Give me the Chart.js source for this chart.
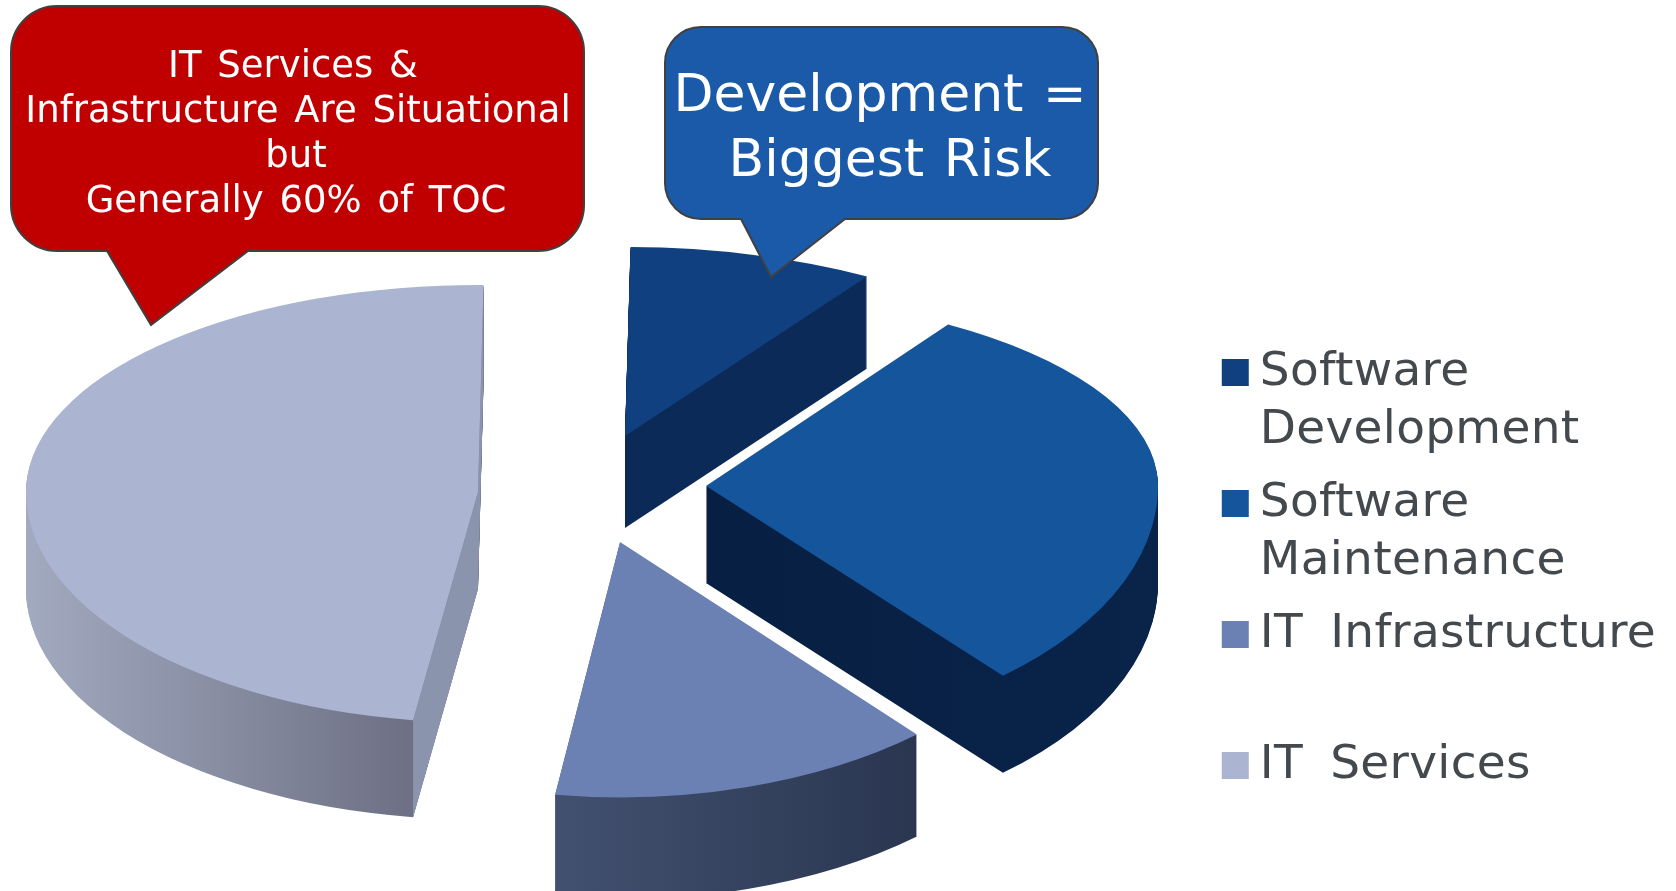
<!DOCTYPE html>
<html lang="en">
<head>
    <meta charset="UTF-8">
    <title>Total Ownership Cost</title>
    <script src="https://cdn.jsdelivr.net/npm/chart.js"></script>
    <style>
        html, body {
            margin: 0;
            padding: 0;
            background: #ffffff;
            overflow: hidden;
        }
        .chart-container {
            position: relative;
            width: 1676px;
            height: 891px;
        }
    </style>
</head>
<body>
    <div class="chart-container">
        <canvas id="costChart"></canvas>
    </div>

    <script>
        // Share of cost per category, wrapped names are what the legend prints
        const categories = [['Software', 'Development'], ['Software', 'Maintenance'], ['IT Infrastructure', ''], ['IT Services']];
        const shares = [8.8, 29.6, 13.7, 47.9];

        const topColors = ['#10407f', '#15559c', '#6b80b3', '#abb4d1'];
        const wallColors = [
            ['#0c2a57', '#0c2a57'],
            ['#071f42', '#0a2349'],
            ['#42506f', '#2a3650'],
            ['#a2aabf', '#6e7186']
        ];
        const wallSpans = [[-1, 1], [0, 1], [-0.13, 0.66], [-1, -0.16]];
        const faceColors = [null, null, null, '#8a94ad'];
        const drawOrder = [3, 0, 1, 2];

        // Where each slice's point sits, how flat its back and front halves are, how tall its wall is
        const sliceTips = [[625, 436], [706, 486], [620, 542], [478, 492]];
        const backSquash = [0.418, 0.423, 0.5, 0.458];
        const frontSquash = [0.5, 0.557, 0.565, 0.51];
        const wallDepths = [92, 97, 102, 97];

        const legendFont = { family: '"DejaVu Sans"', size: 47, lineHeight: 1.245 };

        const redNote = {
            box: [11, 6, 573, 245], radius: 46, tail: [107, 151, 248], tip: 325,
            fill: '#c00000', font: '37px "DejaVu Sans"', wordSpacing: 4,
            lines: [['IT Services &', 293, 67], ['Infrastructure Are Situational', 298, 112], ['but', 296, 157], ['Generally 60% of TOC', 296, 202]]
        };
        const blueNote = {
            box: [665, 27, 433, 192], radius: 36, tail: [741, 771, 845], tip: 277,
            fill: '#1a5aa8', font: '52px "DejaVu Sans"', wordSpacing: 3,
            lines: [['Development =', 880, 97], ['Biggest Risk', 890, 162]]
        };

        // The back and front of the disc flatten differently, so a slice is
        // painted in two clipped halves either side of its point
        function paintSlice(ctx, arc, i, drop, fill) {
            const [tipX, tipY] = sliceTips[i];
            const seam = tipY + drop;
            const saved = arc.options.backgroundColor;
            arc.options.backgroundColor = fill;
            [[0, seam, backSquash[i]], [seam, 891 - seam, frontSquash[i]]].forEach(([top, height, squash]) => {
                ctx.save();
                ctx.beginPath();
                ctx.rect(0, top, 1676, height);
                ctx.clip();
                ctx.translate(tipX, seam);
                ctx.scale(1, squash);
                ctx.translate(-arc.x, -arc.y);
                arc.draw(ctx);
                ctx.restore();
            });
            arc.options.backgroundColor = saved;
        }

        function paintFace(ctx, arc, i, angle) {
            const [tipX, tipY] = sliceTips[i];
            const sin = Math.sin(angle);
            const rimX = tipX + Math.cos(angle) * arc.outerRadius;
            const rimY = tipY + sin * arc.outerRadius * (sin < 0 ? backSquash[i] : frontSquash[i]);
            ctx.fillStyle = faceColors[i];
            ctx.beginPath();
            ctx.moveTo(tipX, tipY);
            ctx.lineTo(rimX, rimY);
            ctx.lineTo(rimX, rimY + wallDepths[i]);
            ctx.lineTo(tipX, tipY + wallDepths[i]);
            ctx.closePath();
            ctx.fill();
        }

        const extrudedPie = {
            id: 'extrudedPie',
            beforeLayout(chart) {
                chart.ctx.wordSpacing = '12px';
                chart.ctx.letterSpacing = '0.3px';
            },
            beforeDraw(chart) {
                chart.ctx.wordSpacing = '12px';
                chart.ctx.letterSpacing = '0.3px';
            },
            beforeDatasetDraw(chart, args) {
                const ctx = chart.ctx;
                const arcs = args.meta.data;
                drawOrder.forEach(i => {
                    const arc = arcs[i];
                    const r = arc.outerRadius;
                    const wall = ctx.createLinearGradient(arc.x + r * wallSpans[i][0], 0, arc.x + r * wallSpans[i][1], 0);
                    wall.addColorStop(0, wallColors[i][0]);
                    wall.addColorStop(1, wallColors[i][1]);
                    for (let drop = wallDepths[i]; drop > 0; drop--) {
                        paintSlice(ctx, arc, i, drop, wall);
                    }
                    if (faceColors[i]) {
                        paintFace(ctx, arc, i, arc.endAngle);
                        paintFace(ctx, arc, i, arc.startAngle);
                    }
                    paintSlice(ctx, arc, i, 0, topColors[i]);
                });
                return false;
            }
        };

        function drawNote(ctx, note) {
            const [x, y, w, h] = note.box;
            const bottom = y + h;
            const r = note.radius;
            ctx.save();
            ctx.beginPath();
            ctx.moveTo(x + r, y);
            ctx.arcTo(x + w, y, x + w, bottom, r);
            ctx.arcTo(x + w, bottom, x, bottom, r);
            ctx.lineTo(note.tail[2], bottom);
            ctx.lineTo(note.tail[1], note.tip);
            ctx.lineTo(note.tail[0], bottom);
            ctx.arcTo(x, bottom, x, y, r);
            ctx.arcTo(x, y, x + w, y, r);
            ctx.closePath();
            ctx.fillStyle = note.fill;
            ctx.fill();
            ctx.lineWidth = 2;
            ctx.strokeStyle = '#404040';
            ctx.stroke();
            ctx.fillStyle = '#ffffff';
            ctx.font = note.font;
            ctx.wordSpacing = note.wordSpacing + 'px';
            ctx.letterSpacing = '0px';
            ctx.textAlign = 'center';
            ctx.textBaseline = 'middle';
            note.lines.forEach(([text, tx, ty]) => ctx.fillText(text, tx, ty));
            ctx.restore();
        }

        const callouts = {
            id: 'callouts',
            afterDraw(chart) {
                drawNote(chart.ctx, redNote);
                drawNote(chart.ctx, blueNote);
            }
        };

        new Chart(document.getElementById('costChart'), {
            type: 'pie',
            data: {
                labels: categories,
                datasets: [{
                    data: shares,
                    backgroundColor: topColors,
                    borderWidth: 0,
                    clip: false
                }]
            },
            options: {
                responsive: true,
                maintainAspectRatio: false,
                animation: false,
                radius: 452,
                rotation: 0.7,
                layout: { padding: { top: 335, right: 10 } },
                plugins: {
                    tooltip: { enabled: false },
                    legend: {
                        position: 'right',
                        align: 'start',
                        labels: {
                            font: legendFont,
                            color: '#44494e',
                            boxWidth: 2,
                            boxHeight: 2,
                            padding: 14,
                            // a wide stroke squares the swatch up to full size and keeps the text close
                            generateLabels(chart) {
                                return categories.map((text, i) => ({
                                    text,
                                    fillStyle: topColors[i],
                                    strokeStyle: topColors[i],
                                    fontColor: '#44494e',
                                    lineWidth: 25,
                                    index: i
                                }));
                            }
                        }
                    }
                }
            },
            plugins: [extrudedPie, callouts]
        });
    </script>
</body>
</html>
